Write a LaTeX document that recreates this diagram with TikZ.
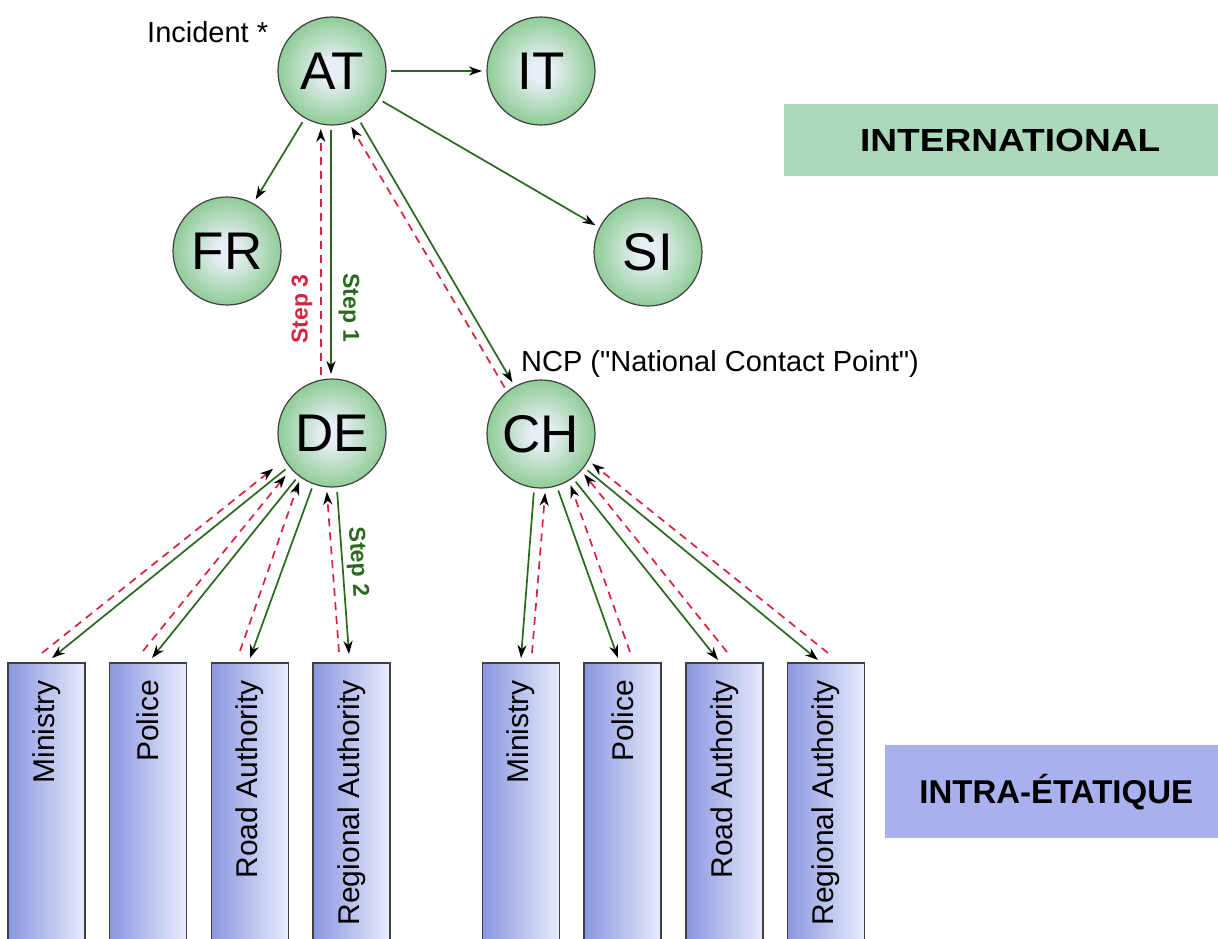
\documentclass[tikz,border=0pt]{standalone}
\usepackage{fontspec}
\usepackage{graphicx}
\setmainfont{Liberation Sans}[Ligatures=TeXOff]
\usetikzlibrary{arrows.meta}
\definecolor{lgreen}{RGB}{40,105,30}
\definecolor{lred}{RGB}{215,35,65}
\definecolor{cin}{RGB}{232,238,246}
\definecolor{cout}{RGB}{143,205,150}
\definecolor{bdark}{RGB}{138,150,224}
\definecolor{blight}{RGB}{232,236,252}
\definecolor{intgreen}{RGB}{172,217,188}
\definecolor{intblue}{RGB}{168,176,238}
\pgfdeclareradialshading{ball}{\pgfpoint{0bp}{0bp}}{color(0bp)=(cin); color(5bp)=(cin); color(25bp)=(cout); color(50bp)=(cout)}
\tikzset{
  country/.style={circle, minimum size=108pt, inner sep=0pt, outer sep=5pt,
    draw=black!75, line width=1.2pt, shading=ball,
    font=\fontsize{53}{53}\selectfont},
  org/.style={rectangle, minimum width=77pt, minimum height=290pt, inner sep=0pt,
    outer sep=0pt, anchor=north, draw=black!75, line width=1.2pt,
    left color=bdark, right color=blight},
  orgtext/.style={rotate=90, anchor=east, inner sep=0pt,
    font=\fontsize{30}{30}\selectfont},
  tipk/.tip={Stealth[length=13pt,width=9pt,inset=4pt,color=black]},
  fwd/.style={draw=lgreen, line width=1.7pt, -tipk},
  back/.style={draw=lred, line width=1.7pt, dash pattern=on 8pt off 6pt, -tipk},
  steplbl/.style={inner sep=0pt, font=\fontsize{23}{23}\selectfont\bfseries},
  lbl/.style={inner sep=0pt, font=\fontsize{29}{29}\selectfont},
  region/.style={inner sep=0pt, anchor=north west, font=\fontsize{32}{32}\selectfont\bfseries}
}
\begin{document}
\begin{tikzpicture}[x=1pt,y=-1pt]
\fill[white] (0,0) rectangle (1218,938);
\clip (0,0) rectangle (1218,938);

% region labels
\node[region, fill=intgreen, minimum width=452pt, minimum height=72pt] (intl) at (784,104) {\scalebox{1.16}[1]{INTERNATIONAL}};
\node[region, fill=intblue, minimum width=342pt, minimum height=93pt, font=\fontsize{33}{33}\selectfont\bfseries] (intra) at (885,745) {INTRA-ÉTATIQUE};

% countries
\node[country] (AT) at (332,71) {AT};
\node[country] (IT) at (541,71) {IT};
\node[country] (FR) at (227,251) {FR};
\node[country] (SI) at (648,252) {SI};
\node[country] (DE) at (332,433) {DE};
\node[country] (CH) at (541,434) {CH};

\node[lbl, anchor=base west] (inc) at (147,42) {Incident *};
\node[lbl, anchor=base west] (ncp) at (521,371) {NCP ("National Contact Point")};

% organisations, DE
\node[org] (dm) at (46.5,663) {};
\node[org] (dp) at (148,663) {};
\node[org] (dr) at (250,663) {};
\node[org] (dg) at (351.5,663) {};
% organisations, CH
\node[org] (cm) at (521,663) {};
\node[org] (cp) at (622.5,663) {};
\node[org] (cr) at (724.5,663) {};
\node[org] (cg) at (826,663) {};

\node[orgtext] (dmt) at ([yshift=-17pt]dm.north) {Ministry};
\node[orgtext] (dpt) at ([yshift=-17pt]dp.north) {Police};
\node[orgtext] (drt) at ([yshift=-17pt]dr.north) {Road Authority};
\node[orgtext] (dgt) at ([yshift=-17pt]dg.north) {Regional Authority};
\node[orgtext] (cmt) at ([yshift=-17pt]cm.north) {Ministry};
\node[orgtext] (cpt) at ([yshift=-17pt]cp.north) {Police};
\node[orgtext] (crt) at ([yshift=-17pt]cr.north) {Road Authority};
\node[orgtext] (cgt) at ([yshift=-17pt]cg.north) {Regional Authority};

% international connectors
\draw[fwd] (AT.0) -- (IT.180);
\draw[fwd] (AT.-120) -- (FR.61);
\draw[fwd] (AT.-31) -- (SI.153);
\draw[fwd] (AT.-91) -- (DE.91);
\draw[back] (DE.101) -- (AT.-101);
\draw[fwd] (AT.-61) -- (CH.119);
\draw[back] (CH.128) -- (AT.-71);

% DE connectors
\draw[fwd] (DE.-142) -- ([xshift=5.5pt,yshift=5pt]dm.north);
\draw[back, shorten >=10pt] ([xshift=-4.5pt,yshift=10pt]dm.north) -- (DE.-150);
\draw[fwd] (DE.-128) -- ([xshift=4pt,yshift=5pt]dp.north);
\draw[back, shorten >=4pt] ([xshift=-5pt,yshift=12pt]dp.north) -- (DE.-138);
\draw[fwd] (DE.-110) -- ([yshift=5pt]dr.north);
\draw[back] ([xshift=-10pt,yshift=12pt]dr.north) -- (DE.-124);
\draw[fwd] (DE.-85) -- ([xshift=-2.5pt,yshift=9pt]dg.north);
\draw[back] ([xshift=-12.5pt,yshift=11pt]dg.north) -- (DE.-95);

% CH connectors
\draw[fwd] (CH.-97) -- ([yshift=5pt]cm.north);
\draw[back] ([xshift=11pt,yshift=10pt]cm.north) -- (CH.-86);
\draw[fwd] (CH.-73) -- ([xshift=-4.5pt,yshift=5pt]cp.north);
\draw[back] ([xshift=7.5pt,yshift=11pt]cp.north) -- (CH.-60);
\draw[fwd] (CH.-54) -- ([xshift=-6.5pt,yshift=3pt]cr.north);
\draw[back] ([xshift=2.5pt,yshift=11pt]cr.north) -- (CH.-43);
\draw[fwd] (CH.-38) -- ([xshift=-8pt,yshift=3pt]cg.north);
\draw[back] ([xshift=2pt,yshift=10pt]cg.north) -- (CH.-30);

% step labels
\node[steplbl, text=lgreen, rotate=-90] (s1) at (349,308) {Step 1};
\node[steplbl, text=lred, rotate=90] (s3) at (302,309) {Step 3};
\node[steplbl, text=lgreen, rotate=-86] (s2) at (357,562) {Step 2};
\end{tikzpicture}
\end{document}
